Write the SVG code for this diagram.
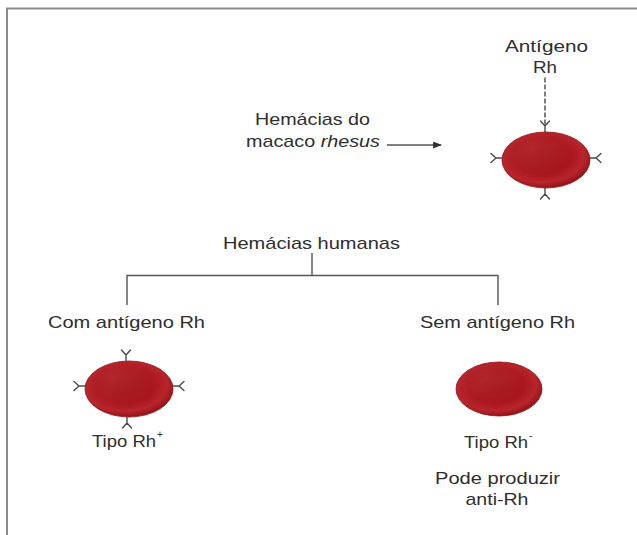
<svg xmlns="http://www.w3.org/2000/svg" xmlns:xlink="http://www.w3.org/1999/xlink" width="637" height="535" viewBox="0 0 637 535">
  <style>
    .t { font-family: "Liberation Sans", Arial, Helvetica, sans-serif; font-size: 17px; fill: #2e2e2e; text-anchor: middle; }
    .sup { font-family: "Liberation Sans", Arial, Helvetica, sans-serif; font-size: 10px; fill: #2e2e2e; }
    .ln { stroke: #555; stroke-width: 1.4; fill: none; }
    .ab { stroke: #4a4a4a; stroke-width: 1.4; fill: none; stroke-linecap: round; stroke-linejoin: round; }
    .frame { stroke: #8c8c8c; stroke-width: 2; fill: none; }
    .cell { stroke: #8a0f14; stroke-width: 0.8; }
  </style>
  <defs>
    <radialGradient id="rbc" cx="0.45" cy="0.42" r="0.6">
      <stop offset="0" stop-color="#9c1117"/>
      <stop offset="0.55" stop-color="#a8161d"/>
      <stop offset="0.8" stop-color="#b8262c"/>
      <stop offset="1" stop-color="#8c1015"/>
    </radialGradient>
    <radialGradient id="hl" cx="0.35" cy="0.3" r="0.5">
      <stop offset="0" stop-color="#d04a4e" stop-opacity="0.35"/>
      <stop offset="1" stop-color="#d04a4e" stop-opacity="0"/>
    </radialGradient>
    <!-- antibody-like receptor, drawn pointing up from the cell edge at the origin -->
    <path id="ag" class="ab" d="M0 0 V-6 M-4.5 -11 L0 -6 L4.5 -11"/>
    <marker id="arr" viewBox="0 0 10 8" refX="9" refY="4" markerWidth="9" markerHeight="7" markerUnits="userSpaceOnUse" orient="auto">
      <path d="M0 0 L10 4 L0 8 Z" fill="#333"/>
    </marker>
  </defs>

  <rect width="637" height="535" fill="#ffffff"/>
  <path class="frame" d="M7 535 V8.5 H637"/>

  <!-- connectors -->
  <g id="connectors">
    <line class="ab" x1="545" y1="78" x2="545" y2="124" stroke-dasharray="4 3"/>
    <line class="ln" x1="387" y1="145" x2="441" y2="145" marker-end="url(#arr)"/>
    <path class="ln" d="M312 253 V275.5 M127 305 V275.5 H498 V305"/>
  </g>

  <!-- rhesus monkey red cell -->
  <g id="rhesus-cell">
    <ellipse class="cell" cx="546" cy="160" rx="44" ry="28" fill="url(#rbc)"/>
    <ellipse cx="546" cy="160" rx="44" ry="28" fill="url(#hl)"/>
    <use xlink:href="#ag" transform="translate(545,132)"/>
    <use xlink:href="#ag" transform="translate(545,188) rotate(180)"/>
    <use xlink:href="#ag" transform="translate(502,158) rotate(-90)"/>
    <use xlink:href="#ag" transform="translate(590,158) rotate(90)"/>
  </g>

  <g id="antigen-label">
    <text class="t" x="546.5" y="52" textLength="83" lengthAdjust="spacingAndGlyphs">Antígeno</text>
    <text class="t" x="545" y="73" textLength="24" lengthAdjust="spacingAndGlyphs">Rh</text>
  </g>

  <g id="rhesus-label">
    <text class="t" x="312.5" y="125" textLength="115" lengthAdjust="spacingAndGlyphs">Hemácias do</text>
    <text class="t" x="313" y="147" textLength="134" lengthAdjust="spacingAndGlyphs">macaco <tspan font-style="italic">rhesus</tspan></text>
  </g>

  <g id="human-cells">
    <text class="t" x="311.5" y="249" textLength="177" lengthAdjust="spacingAndGlyphs">Hemácias humanas</text>
  </g>

  <!-- Rh positive -->
  <g id="rh-positive">
    <text class="t" x="126.5" y="328" textLength="157" lengthAdjust="spacingAndGlyphs">Com antígeno Rh</text>
    <ellipse class="cell" cx="129" cy="389" rx="44" ry="28" fill="url(#rbc)"/>
    <ellipse cx="129" cy="389" rx="44" ry="28" fill="url(#hl)"/>
    <use xlink:href="#ag" transform="translate(126,361)"/>
    <use xlink:href="#ag" transform="translate(127,417) rotate(180)"/>
    <use xlink:href="#ag" transform="translate(85,386) rotate(-90)"/>
    <use xlink:href="#ag" transform="translate(173,386) rotate(90)"/>
    <text class="t" x="124" y="447" textLength="64" lengthAdjust="spacingAndGlyphs">Tipo Rh</text>
    <text class="sup" x="157" y="438" font-size="9">+</text>
  </g>

  <!-- Rh negative -->
  <g id="rh-negative">
    <text class="t" x="497.5" y="328" textLength="155" lengthAdjust="spacingAndGlyphs">Sem antígeno Rh</text>
    <ellipse class="cell" cx="499" cy="389" rx="43" ry="27" fill="url(#rbc)"/>
    <ellipse cx="499" cy="389" rx="43" ry="27" fill="url(#hl)"/>
    <text class="t" x="496" y="448" textLength="64" lengthAdjust="spacingAndGlyphs">Tipo Rh</text>
    <text class="sup" x="529" y="439" font-size="11">-</text>
    <text class="t" x="497.5" y="484" textLength="125" lengthAdjust="spacingAndGlyphs">Pode produzir</text>
    <text class="t" x="497" y="505" textLength="63" lengthAdjust="spacingAndGlyphs">anti-Rh</text>
  </g>
</svg>
